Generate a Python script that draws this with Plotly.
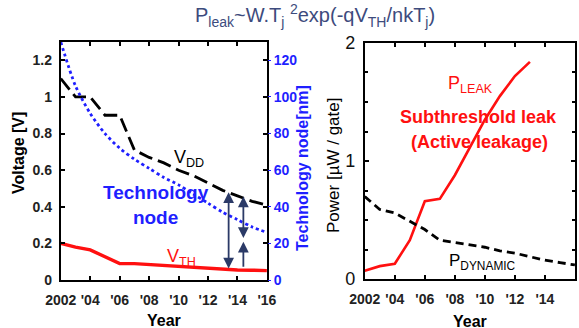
import plotly.graph_objects as go

years = list(range(2002, 2017))
vdd = [1.10, 1.00, 1.00, 0.90, 0.90, 0.71, 0.67, 0.64, 0.60, 0.57, 0.53, 0.49, 0.46, 0.43, 0.41]
vth = [0.20, 0.18, 0.165, 0.125, 0.09, 0.09, 0.085, 0.08, 0.075, 0.07, 0.062, 0.057, 0.055, 0.054, 0.052]
tech_node = [130, 106, 91, 80, 72, 66, 61, 56, 52, 47, 42, 37, 33, 29, 26]

leak_years = list(range(2002, 2014))
p_leak = [0.07, 0.11, 0.13, 0.33, 0.66, 0.68, 0.88, 1.12, 1.35, 1.55, 1.72, 1.84]
p_dynamic = [0.70, 0.59, 0.56, 0.49, 0.42, 0.33, 0.31, 0.29, 0.27, 0.24, 0.22, 0.19, 0.16, 0.14, 0.12]

tick_years = [2002, 2004, 2006, 2008, 2010, 2012, 2014, 2016]
tick_text = ["2002", "'04", "'06", "'08", "'10", "'12", "'14", "'16"]
volt_ticks = [0, 0.2, 0.4, 0.6, 0.8, 1, 1.2]
volt_text = ["0", "0.2", "0.4", "0.6", "0.8", "1", "1.2"]
node_ticks = [0, 20, 40, 60, 80, 100, 120]
power_ticks = [0, 1, 2]

# arrows: (year, from, to) in voltage units
arrows = [(2013.4, 0.055, 0.48), (2014.4, 0.465, 0.23), (2014.4, 0.065, 0.21)]
arrow_double = [True, True, False]

FONT = "Liberation Sans, Arial, sans-serif"
NAVY = "#2b3a67"
BLUE = "#1f1fff"
RED = "#ff1010"

def bold(lst):
    return [f"<b>{t}</b>" for t in lst]

fig = go.Figure()
fig.add_trace(go.Scatter(x=years, y=vdd, mode="lines", line=dict(color="black", width=2.8, dash="14px,6px"), xaxis="x", yaxis="y"))
fig.add_trace(go.Scatter(x=years, y=vth, mode="lines", line=dict(color=RED, width=3.4), xaxis="x", yaxis="y"))
fig.add_trace(go.Scatter(x=years, y=tech_node, mode="lines", line=dict(color=BLUE, width=2.8, dash="dot", shape="spline", smoothing=0.8), xaxis="x", yaxis="y2"))
fig.add_trace(go.Scatter(x=leak_years, y=p_leak, mode="lines", line=dict(color=RED, width=2.6), xaxis="x3", yaxis="y3"))
fig.add_trace(go.Scatter(x=years, y=p_dynamic, mode="lines", line=dict(color="black", width=2.8, dash="8px,5px"), xaxis="x3", yaxis="y3"))

axis_common = dict(showline=True, linecolor="black", linewidth=2, mirror="ticks", ticks="inside",
                   ticklen=4, tickwidth=1.5, tickcolor="black", showgrid=False, zeroline=False,
                   automargin=False, tickfont=dict(family=FONT, size=14, color="#222"))

fig.update_layout(
    width=579, height=328, margin=dict(l=0, r=0, t=0, b=0, autoexpand=False),
    paper_bgcolor="white", plot_bgcolor="white", showlegend=False,
    xaxis=dict(axis_common, domain=[0.105, 0.461], range=[2002, 2016], tickvals=tick_years, ticktext=bold(tick_text),
               anchor="y", ticklabelstandoff=6),
    yaxis=dict(axis_common, domain=[0.146, 0.872], range=[0, 1.3], tickvals=volt_ticks,
               ticktext=bold(volt_text), anchor="x", ticklabelstandoff=4),
    yaxis2=dict(overlaying="y", side="right", anchor="x", range=[0, 130], tickvals=node_ticks,
                ticktext=bold([str(v) for v in node_ticks]), automargin=False,
                showgrid=False, zeroline=False, showline=False, ticks="outside", ticklen=3, tickcolor=BLUE,
                tickfont=dict(family=FONT, size=14, color=BLUE)),
    xaxis3=dict(axis_common, domain=[0.630, 0.993], range=[2002, 2016], tickvals=tick_years, ticktext=bold(tick_text),
                anchor="y3", ticklabelstandoff=6),
    yaxis3=dict(axis_common, domain=[0.149, 0.869], range=[0, 2], tickvals=power_ticks,
                tickfont=dict(family=FONT, size=18, color="#111"), anchor="x3", ticklabelstandoff=4,
                minor=dict(ticks="inside", dtick=0.25, ticklen=3, tickcolor="black")),
)

def ann(text, x, y, size, color="black", bold=False, angle=0):
    t = f"<b>{text}</b>" if bold else text
    fig.add_annotation(text=t, x=x, y=y, xref="paper", yref="paper", showarrow=False, textangle=angle,
                       font=dict(family=FONT, size=size, color=color), xanchor="center", yanchor="middle")

W, H = 579, 328
def px(x, y):
    return x / W, 1 - y / H

ann("P<sub>leak</sub>~W.T<sub>j</sub> <sup>2</sup>exp(-qV<sub>TH</sub>/nkT<sub>j</sub>)", *px(315, 15), 20, color="#3d4b7d")
ann("Voltage [V]", *px(18, 153), 16, bold=True, angle=-90)
ann("Technology node[nm]", *px(302, 168), 16, color=BLUE, bold=True, angle=-90)
ann("Power [µW / gate]", *px(333, 166), 17, angle=-90)
ann("Year", *px(164, 320), 16, bold=True)
ann("Year", *px(470, 321), 16, bold=True)
ann("V<sub>DD</sub>", *px(189, 158), 18)
ann("Technology<br>node", *px(156, 205), 19, color=BLUE, bold=True)
ann("V<sub>TH</sub>", *px(181, 257), 18, color=RED)
ann("P<sub>LEAK</sub>", *px(470, 84), 18, color=RED)
ann("Subthreshold leak", *px(478, 117), 18, color=RED, bold=True)
ann("(Active leakage)", *px(480, 142), 18, color=RED, bold=True)
ann("P<sub>DYNAMIC</sub>", *px(482, 262), 17)

for (xa, y0, y1), dbl in zip(arrows, arrow_double):
    fig.add_annotation(x=xa, y=y1, ax=xa, ay=y0, xref="x", yref="y", axref="x", ayref="y",
                       showarrow=True, arrowhead=2, arrowside="end+start" if dbl else "end",
                       arrowsize=1.2, arrowwidth=1.8, arrowcolor=NAVY, text="")

fig.write_html("out.html", config={"displayModeBar": False},
               post_script="document.body.style.margin='0';document.body.style.overflow='hidden';")
